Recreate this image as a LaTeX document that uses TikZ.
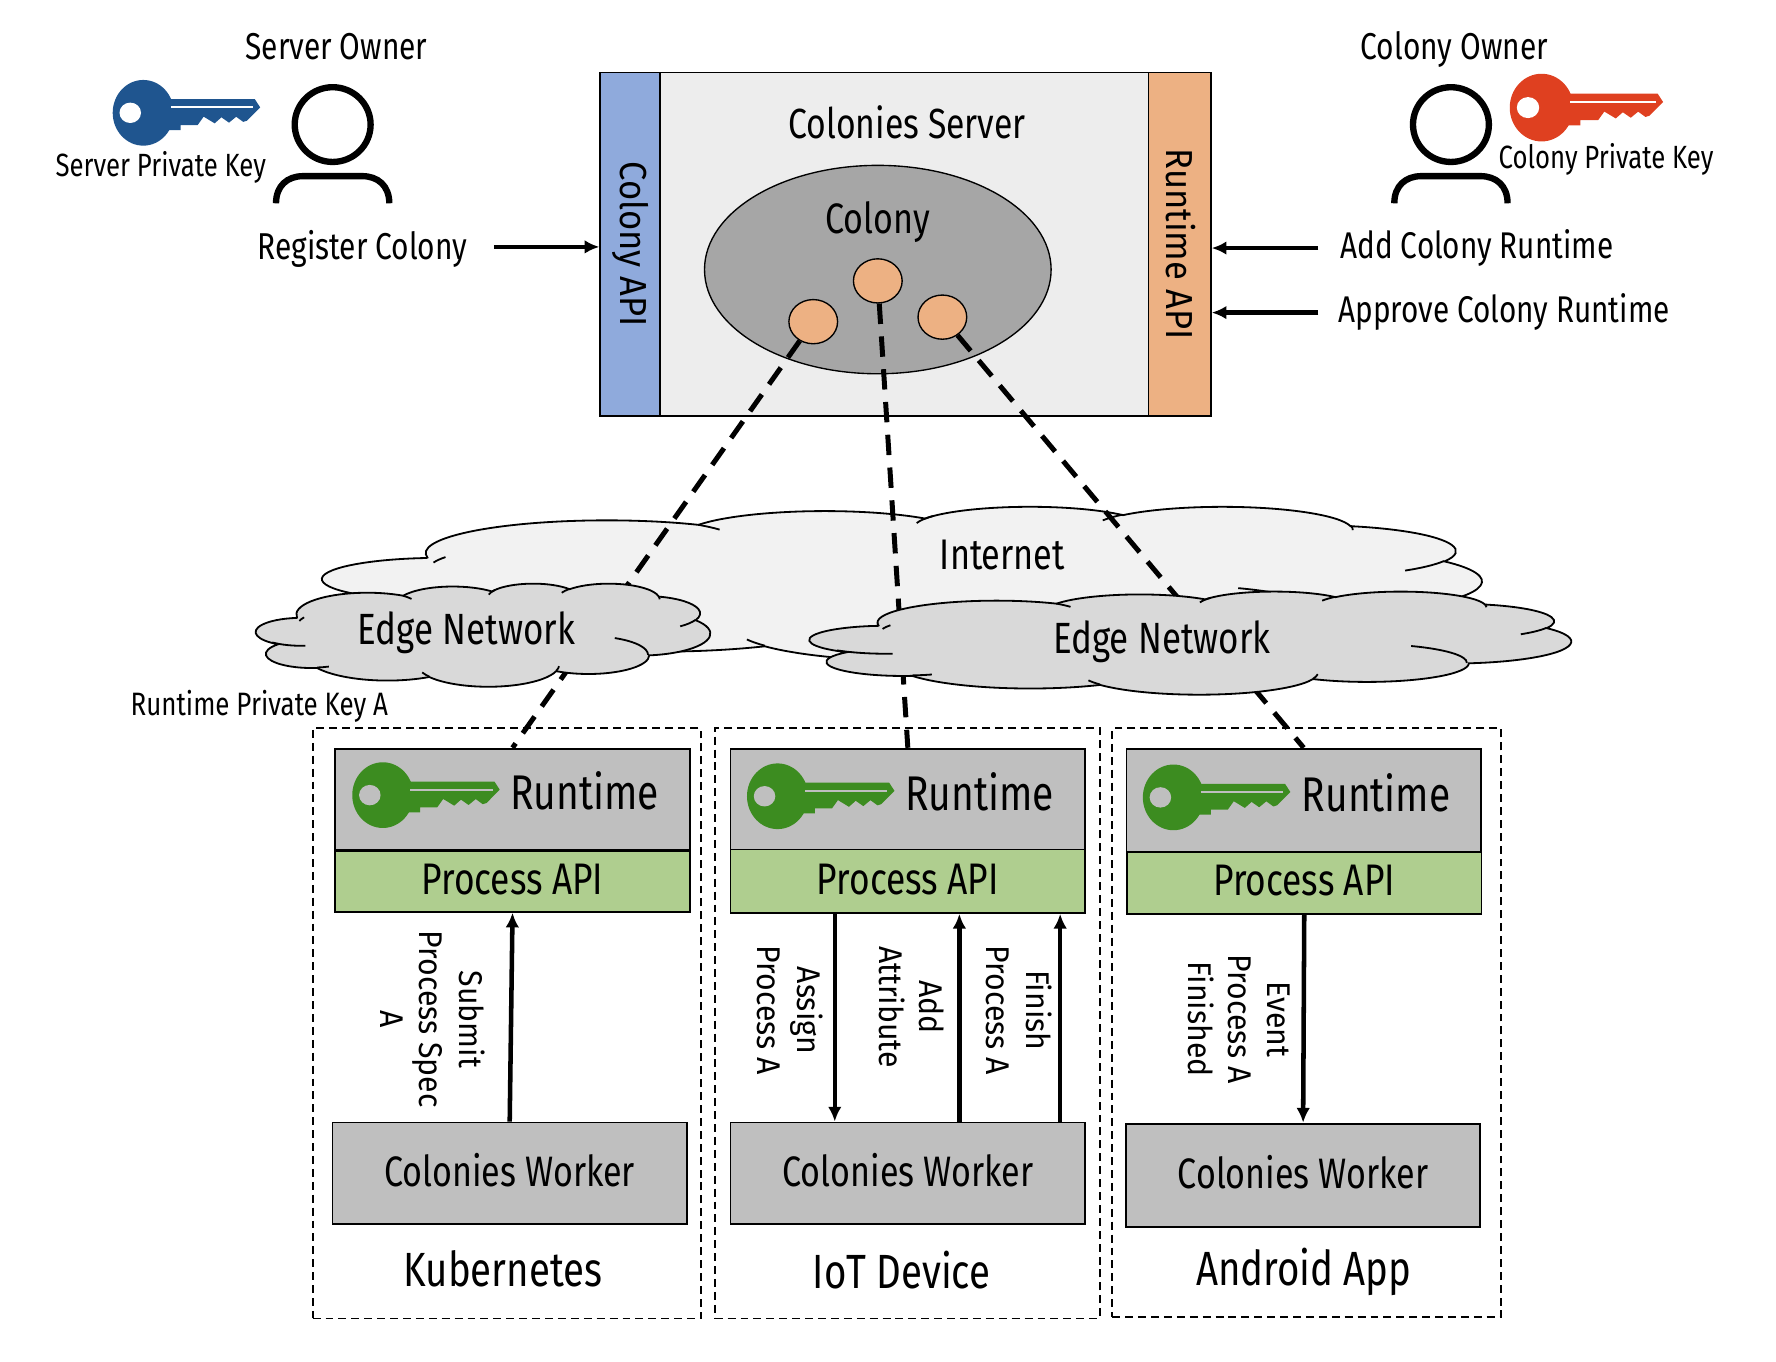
\documentclass[tikz,border=0pt]{standalone}
\usepackage{fontspec}
\setmainfont{Fira Sans}[FakeStretch=0.8]
\newfontfamily\rotfont{Fira Sans}[FakeStretch=0.92]
\usetikzlibrary{shapes.geometric,arrows.meta}
\definecolor{serverbg}{HTML}{EDEDED}
\definecolor{apiblue}{HTML}{8FAADC}
\definecolor{apiorange}{HTML}{EDB183}
\definecolor{boxgray}{HTML}{BFBFBF}
\definecolor{apigreen}{HTML}{AFCE8F}
\definecolor{keyblue}{HTML}{1F558F}
\definecolor{keyred}{HTML}{DF4020}
\definecolor{keygreen}{HTML}{3C8C20}
\definecolor{cloudlight}{HTML}{F2F2F2}
\definecolor{clouddark}{HTML}{D9D9D9}
\newcommand{\fsz}[1]{\fontsize{#1}{#1}\selectfont}

\tikzset{
  box node/.style={draw,line width=0.8pt,inner sep=0pt,minimum width=156.5pt},
  frame node/.style={draw,line width=0.8pt,dash pattern=on 3.5pt off 2.2pt,inner sep=0pt},
  member node/.style={ellipse,draw,line width=0.6pt,fill=apiorange,inner sep=0pt,minimum width=21.5pt,minimum height=19.5pt},
  arrow line/.style={line width=2pt,-{Latex[length=6.5pt,width=6pt]}},
  net line/.style={line width=2.2pt,dash pattern=on 9pt off 5.5pt},
  call label/.style={rotate=-90,align=center,font=\rotfont\fontsize{14.5}{17.5}\selectfont},
  pics/keyicon/.style 2 args={code={
    \fill[#1] (0,0) ellipse [x radius=27,y radius=29];
    \fill[#1] (20,-12) -- (98.5,-12) -- (103.2,-4.8) -- (91.5,7) -- (88.2,8) -- (82,3.5) -- (75.7,8.7)
      -- (69,4) -- (63,9.3) -- (53.3,3.4) -- (48,10.8) -- (33,10.8) -- (33,15.2) -- (20,15.2) -- cycle;
    \fill[#2] (-11.5,0) ellipse [x radius=9.5,y radius=9];
    \draw[#2,line width=0.9pt] (24.3,-4.8) -- (96.9,-4.8);
  }},
  pics/personicon/.style={code={
    \draw[line width=2.8pt] (0,0) ellipse [x radius=33.5,y radius=33];
    \draw[line width=2.8pt] (-50,69.5) .. controls (-50,54) and (-40,45.5) .. (-26,45.5)
      -- (26,45.5) .. controls (40,45.5) and (50,54) .. (50,69.5);
  }},
}

% outline of a cloud, taken in a 43.2 x 43.2 box
\newcommand{\netcloud}[5]{
  \begin{scope}[shift={(#1,#2)},x=1pt,y=1pt,xscale=#3/86.4,yscale=-#4/86.4]
    \draw[line width=0.8pt,fill=#5] (3.9,14.37)
      \foreach \wr/\hr/\st/\sw in {6.753/9.19/-190.4875/123.78,5.333/7.267/-144.102/89.945,
        4.365/5.945/-145.808/99.723,4.857/6.595/-130.986/117.242,5.333/7.273/-78.709/109.027,
        6.775/9.22/-46.267/130.269,5.785/7.867/0.625/114.033,6.752/9.215/22.452/115.173,
        7.72/10.543/66.243/75.711,4.36/5.918/-274.942/146.736,4.345/5.945/-246.829/152.519}
      { arc[x radius=\wr pt,y radius=\hr pt,start angle={atan2(\wr*sin(\st),\hr*cos(\st))},
          delta angle={mod(atan2(\wr*sin(\st+\sw),\hr*cos(\st+\sw))-atan2(\wr*sin(\st),\hr*cos(\st))+720,360)}] }
      -- cycle;
    \foreach \px/\py/\wr/\hr/\st/\sw in {4.693/26.177/4.345/5.945/86.742/35,6.928/34.899/4.36/5.918/73.61/11.447,
        16.478/39.09/6.752/9.215/137.624/14.081,28.827/34.751/6.752/9.215/6.453/15.998,
        34.129/22.954/5.785/7.867/-69.5/70,41.798/15.354/5.333/7.273/30.318/27.752,
        38.324/5.426/4.857/6.595/-13.744/14.859,29.078/3.952/4.857/6.595/-149.181/18.195,
        22.141/4.72/4.365/5.945/-163.494/24.908,14/5.192/5.333/7.267/-54.2/14,4.127/15.789/5.333/7.267/-160/16}
      \draw[line width=0.8pt] (\px,\py)
        arc[x radius=\wr pt,y radius=\hr pt,start angle={atan2(\wr*sin(\st),\hr*cos(\st))},
          delta angle={mod(atan2(\wr*sin(\st+\sw),\hr*cos(\st+\sw))-atan2(\wr*sin(\st),\hr*cos(\st))+720,360)}];
  \end{scope}
}

\begin{document}
\begin{tikzpicture}[x=0.5pt,y=-0.5pt]
  \useasboundingbox (0,0) rectangle (1568,1202);

  % colonies server
  \node[box node,fill=serverbg,minimum width=269.5pt,minimum height=151.5pt] (server) at (799.5,215.5) {};
  \node[box node,fill=apiblue,minimum width=26.5pt,minimum height=151.5pt] (colonyapi) at (556.5,215.5)
    {\rotfont\fsz{16.6}\rotatebox{-90}{Colony API}};
  \node[box node,fill=apiorange,minimum width=27.5pt,minimum height=151.5pt] (runtimeapi) at (1041.5,215.5)
    {\rotfont\fsz{16.6}\kern1.5pt\rotatebox{-90}{Runtime API}};
  \node[font=\fsz{18.6}] (servertitle) at (801,108) {Colonies Server};
  \node[ellipse,draw,line width=0.6pt,fill=black!35,inner sep=0pt,minimum width=153pt,minimum height=92pt] (colony) at (775,238) {};
  \node[font=\fsz{18.8}] (colonytitle) at (775,196) {Colony};
  \node[member node] (memberA) at (718,284) {};
  \node[member node] (memberB) at (775,248) {};
  \node[member node] (memberC) at (832,280) {};

  % owners
  \pic at (293.7,110) {personicon};
  \pic at (1281,110) {personicon};
  \pic at (126.5,99.6) {keyicon={keyblue}{white}};
  \pic[xscale=1.04,yscale=1.03] at (1361,95) {keyicon={keyred}{white}};
  \node[font=\fsz{16.5}] (serverowner) at (297,41) {Server Owner};
  \node[font=\fsz{16.5}] (colonyowner) at (1284,44) {Colony Owner};
  \node[font=\fsz{14.2}] (serverkey) at (142,148) {Server Private Key};
  \node[font=\fsz{14.2}] (colonykey) at (1418,141) {Colony Private Key};
  \node[font=\fsz{16.5}] (register) at (320,220) {Register Colony};
  \node[font=\fsz{16.4}] (addruntime) at (1304,219) {Add Colony Runtime};
  \node[font=\fsz{16.4}] (approveruntime) at (1328,275) {Approve Colony Runtime};
  \node[font=\fsz{14.3}] (runtimekey) at (229,624) {Runtime Private Key A};

  \coordinate (registerend) at (436,218);
  \coordinate (addend) at (1164,219);
  \coordinate (approveend) at (1164,276);
  \draw[arrow line] (registerend) -- (registerend -| colonyapi.west);
  \draw[arrow line] (addend) -- (addend -| runtimeapi.east);
  \draw[arrow line] (approveend) -- (approveend -| runtimeapi.east);

  % columns
  \node[frame node,minimum width=171.5pt,minimum height=260.5pt] (frameA) at (447.5,903.5) {};
  \node[frame node,minimum width=170pt,minimum height=260.5pt] (frameB) at (801,903.5) {};
  \node[frame node,minimum width=171.5pt,minimum height=260pt] (frameC) at (1153.5,903) {};

  \node[box node,fill=boxgray,minimum height=44.5pt] (runtimeA) at (452.5,705.5) {};
  \node[box node,fill=boxgray,minimum height=44.5pt] (runtimeB) at (801.5,705.5) {};
  \node[box node,fill=boxgray,minimum height=45.5pt] (runtimeC) at (1151,706.5) {};
  \node[box node,fill=apigreen,minimum height=27pt,text depth=2pt,font=\fsz{19.5}] (processA) at (452.5,778) {Process API};
  \node[box node,fill=apigreen,minimum height=28pt,text depth=2pt,font=\fsz{19.5}] (processB) at (801.5,778) {Process API};
  \node[box node,fill=apigreen,minimum height=27.5pt,text depth=2pt,font=\fsz{19.5}] (processC) at (1151.5,779.5) {Process API};
  \node[box node,fill=boxgray,minimum height=45pt,text depth=3pt,font=\fsz{18.8}] (workerA) at (450,1036) {Colonies Worker};
  \node[box node,fill=boxgray,minimum height=45pt,text depth=3pt,font=\fsz{18.8}] (workerB) at (801.5,1036) {Colonies Worker};
  \node[box node,fill=boxgray,minimum height=45.5pt,text depth=3pt,font=\fsz{18.8}] (workerC) at (1150.5,1037.5) {Colonies Worker};

  \pic at (338,702) {keyicon={keygreen}{boxgray}};
  \pic at (686.5,703) {keyicon={keygreen}{boxgray}};
  \pic at (1036,704) {keyicon={keygreen}{boxgray}};
  \node[font=\fsz{21.5}] (runtimeAtext) at (516,698) {Runtime};
  \node[font=\fsz{21.5}] (runtimeBtext) at (865,699) {Runtime};
  \node[font=\fsz{21.5}] (runtimeCtext) at (1215,700) {Runtime};

  \node[font=\fsz{21.2}] (kubernetes) at (444,1120) {Kubernetes};
  \node[font=\fsz{21.2}] (iotdevice) at (796,1121) {IoT Device};
  \node[font=\fsz{21.2}] (androidapp) at (1151,1123) {Android App};

  % links to the colony cross the internet, the edge clouds hide them
  \netcloud{285}{447}{1023}{136}{cloudlight}
  \draw[net line] (memberA) -- (runtimeA.north);
  \draw[net line] (memberB) -- (runtimeB.north);
  \draw[net line] (memberC) -- (runtimeC.north);
  \netcloud{226}{515}{401}{91}{clouddark}
  \netcloud{715}{522}{672}{91}{clouddark}
  \node[font=\fsz{18.9}] (internet) at (885,490) {Internet};
  \node[font=\fsz{19.3}] (edgeA) at (412,559) {Edge Network};
  \node[font=\fsz{19.3}] (edgeB) at (1026,567) {Edge Network};

  % calls between worker and runtime
  \coordinate (assigntop) at (737,806);
  \coordinate (addbottom) at (847,991);
  \coordinate (finishbottom) at (936,991);
  \draw[arrow line] (workerA.north) -- (processA.south);
  \draw[arrow line] (assigntop) -- (assigntop |- workerB.north);
  \draw[arrow line] (addbottom) -- (addbottom |- processB.south);
  \draw[arrow line] (finishbottom) -- (finishbottom |- processB.south);
  \draw[arrow line] (processC.south) -- (workerC.north);

  \node[call label] (submitlabel) at (382,900) {Submit\\Process Spec\\A};
  \node[call label] (assignlabel) at (697.5,892) {Assign\\Process A};
  \node[call label] (addlabel) at (805,889) {Add\\Attribute};
  \node[call label] (finishlabel) at (899.5,892) {Finish\\Process A};
  \node[call label] (eventlabel) at (1094,900) {Event\\Process A\\Finished};
\end{tikzpicture}
\end{document}
